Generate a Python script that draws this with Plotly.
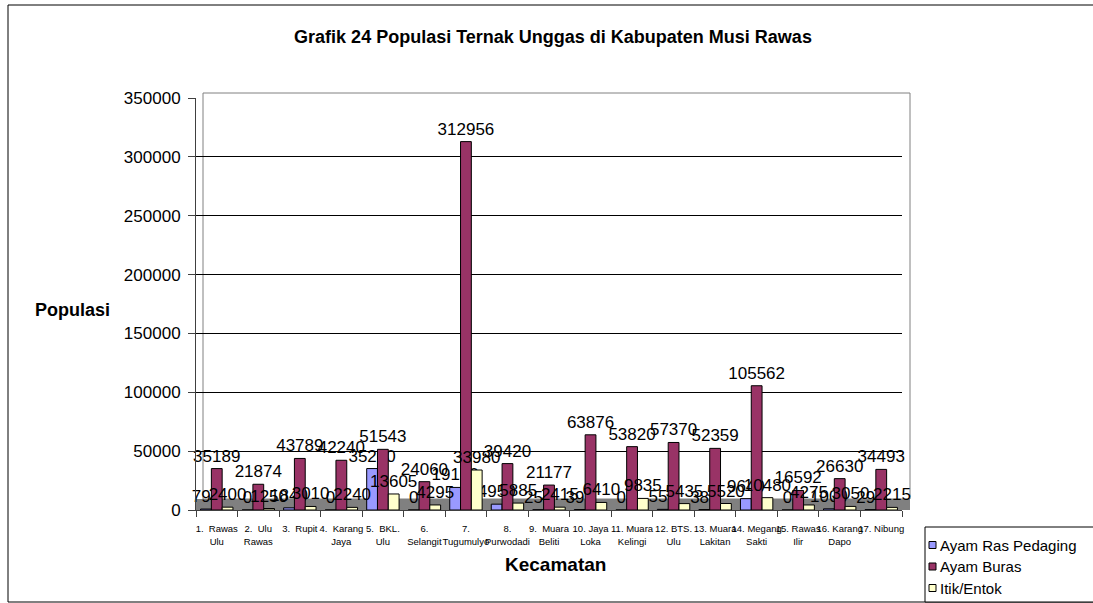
"""
Grafik 24 - populasi ternak unggas per kecamatan, Kabupaten Musi Rawas
"""
import plotly.graph_objects as go

# kategori kecamatan (label seperti pada sumbu, dengan pemenggalan baris)
kecamatan = ['1.  Rawas<br>Ulu', '2.  Ulu<br>Rawas', '3.  Rupit', '4.  Karang<br>Jaya',
             '5.  BKL.<br>Ulu', '6.<br>Selangit', '7.<br>Tugumulyo', '8.<br>Purwodadi',
             '9.  Muara<br>Beliti', '10. Jaya<br>Loka', '11. Muara<br>Kelingi',
             '12. BTS.<br>Ulu', '13. Muara<br>Lakitan', '14. Megang<br>Sakti',
             '15. Rawas<br>Ilir', '16. Karang<br>Dapo', '17. Nibung']

ayam_ras = [795, 0, 1840, 0, 35200, 0, 19170, 4950, 250, 395, 0, 550, 385, 9640, 0, 1000, 295]
ayam_buras = [35189, 21874, 43789, 42240, 51543, 24060, 312956, 39420, 21177, 63876,
              53820, 57370, 52359, 105562, 16592, 26630, 34493]
itik_entok = [2400, 1250, 3010, 2240, 13605, 4295, 33980, 5885, 2415, 6410,
              9835, 5435, 5520, 10480, 4275, 3050, 2215]

y_ticks = [0, 50000, 100000, 150000, 200000, 250000, 300000, 350000]

FONT = 'Arial, Liberation Sans, sans-serif'
W, H = 1093, 603
L, R, T, B = 196, 902, 98, 510  # plot area in pixels


def px_x(p):
    return (p - L) / (R - L)


def px_y(p):
    return (B - p) / (B - T)


fig = go.Figure()

series = [('Ayam Ras Pedaging', ayam_ras, '#9999FF'),
          ('Ayam Buras', ayam_buras, '#993366'),
          ('Itik/Entok', itik_entok, '#FFFFCC')]

for name, vals, color in series:
    fig.add_trace(go.Bar(
        x=kecamatan, y=vals, name=name,
        marker=dict(color=color, line=dict(color='black', width=1)),
        text=[str(v) for v in vals], textposition='outside',
        textfont=dict(family=FONT, size=17, color='black'),
        constraintext='none', cliponaxis=False,
    ))

fig.update_layout(
    width=W, height=H,
    margin=dict(l=L, r=W - R, t=T, b=H - B),
    paper_bgcolor='white', plot_bgcolor='white',
    font=dict(family=FONT, color='black'),
    barmode='group', bargap=0.22, bargroupgap=0,
    title=dict(text='<b>Grafik 24 Populasi Ternak Unggas di Kabupaten Musi Rawas</b>',
               font=dict(size=18, color='black'), xref='container', yref='container',
               x=553 / W, y=1 - 37 / H, xanchor='center', yanchor='middle'),
    showlegend=False,
)

fig.update_xaxes(
    type='category', tickson='boundaries', ticks='outside', ticklen=6,
    tickcolor='#404040', showline=True, linecolor='#404040', tickangle=0,
    ticklabelstandoff=10,
    tickfont=dict(size=9.5, color='black'), showgrid=False,
)
fig.update_yaxes(
    range=[0, 350000], tickvals=y_ticks, tickformat='d', ticks='outside', ticklen=7,
    tickcolor='#404040', showline=True, linecolor='#404040', ticklabelstandoff=4,
    showgrid=True, gridcolor='black', gridwidth=1,
    tickfont=dict(size=17, color='black'), zeroline=False,
)

# lantai abu-abu di bawah batang dan dinding belakang
fig.add_shape(type='rect', xref='paper', yref='paper', x0=0, x1=px_x(910),
              y0=0, y1=px_y(499), fillcolor='#808080', line=dict(width=0), layer='below')
fig.add_shape(type='rect', xref='paper', yref='paper', x0=px_x(203), x1=px_x(910),
              y0=px_y(499), y1=px_y(93), line=dict(color='#808080', width=1), layer='below')

# bingkai luar grafik
fig.add_shape(type='rect', xref='paper', yref='paper',
              x0=px_x(8), x1=px_x(1100), y0=px_y(602), y1=px_y(5),
              line=dict(color='black', width=1), layer='below')

fig.add_annotation(text='<b>Populasi</b>', xref='paper', yref='paper',
                   x=px_x(72), y=px_y(310), xanchor='center', yanchor='middle',
                   showarrow=False, font=dict(size=18, color='black'))
fig.add_annotation(text='<b>Kecamatan</b>', xref='paper', yref='paper',
                   x=px_x(555), y=px_y(564), xanchor='center', yanchor='middle',
                   showarrow=False, font=dict(size=19, color='black'))

# legenda dengan kotak kecil seperti pada grafik asli
fig.add_shape(type='rect', xref='paper', yref='paper',
              x0=px_x(925), x1=px_x(1100), y0=px_y(602), y1=px_y(527),
              fillcolor='white', line=dict(color='black', width=1))
for i, (name, vals, color) in enumerate(series):
    yc = 545 + i * 21.5
    fig.add_shape(type='rect', xref='paper', yref='paper',
                  x0=px_x(929), x1=px_x(936), y0=px_y(yc + 3.5), y1=px_y(yc - 3.5),
                  fillcolor=color, line=dict(color='black', width=1))
    fig.add_annotation(text=name, xref='paper', yref='paper',
                       x=px_x(938), y=px_y(yc), xanchor='left', yanchor='middle',
                       showarrow=False, font=dict(size=15, color='black'))

fig.write_html("out.html", config={'displayModeBar': False},
               post_script="document.body.style.margin = '0';")
